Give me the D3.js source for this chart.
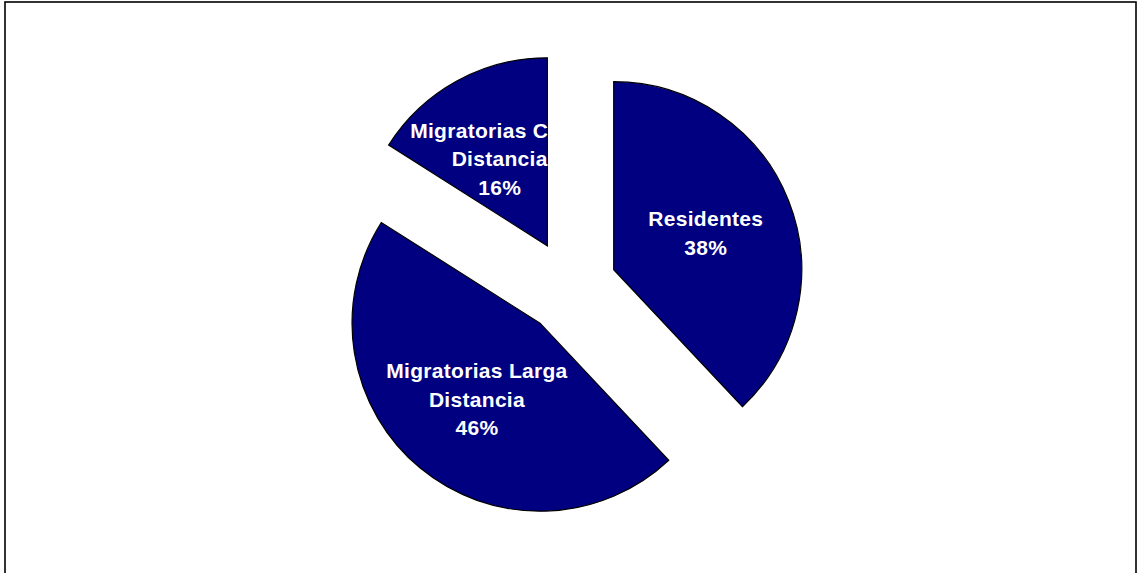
<!DOCTYPE html>
<html>
<head>
<meta charset="utf-8">
<script src="https://cdn.jsdelivr.net/npm/d3@7"></script>
<style>
  html, body { margin: 0; padding: 0; background: #fff; }
  svg { display: block; }
</style>
</head>
<body>
<svg id="chart" width="1138" height="573"></svg>
<script>
// Bird species by migratory behaviour
const categories = ["Residentes", "Migratorias Larga Distancia", "Migratorias Corta Distancia"];
const labelLines = [["Residentes"], ["Migratorias Larga", "Distancia"], ["Migratorias Corta", "Distancia"]];
const shares = [38, 46, 16];

const W = 1138, H = 573;
const cx = 570, cy = 287, radius = 188, explode = 47, labelDist = 99;

const svg = d3.select("#chart");

// Chart frame
svg.append("rect")
  .attr("x", 5).attr("y", 2)
  .attr("width", 1131).attr("height", 600)
  .attr("fill", "none")
  .attr("stroke", "#000")
  .attr("stroke-width", 1.6);

const data = categories.map((c, i) => ({ name: c, value: shares[i], lines: labelLines[i] }));

const pie = d3.pie().value(d => d.value).sort(null);
const arc = d3.arc().innerRadius(0).outerRadius(radius);
const arcs = pie(data);

const g = svg.append("g").attr("transform", `translate(${cx},${cy})`);

const slice = g.selectAll("g.slice")
  .data(arcs)
  .join("g")
  .attr("class", "slice")
  .attr("transform", d => {
    const a = (d.startAngle + d.endAngle) / 2;
    return `translate(${Math.sin(a) * explode},${-Math.cos(a) * explode})`;
  });

slice.append("path")
  .attr("d", arc)
  .attr("fill", "#000080")
  .attr("stroke", "#000")
  .attr("stroke-width", 1.2);

const lineH = 28.5;
slice.append("text")
  .attr("transform", d => {
    const a = (d.startAngle + d.endAngle) / 2;
    return `translate(${Math.sin(a) * labelDist},${-Math.cos(a) * labelDist})`;
  })
  .attr("text-anchor", "middle")
  .attr("fill", "#fff")
  .style("font-family", "'Liberation Sans', Arial, sans-serif")
  .style("font-weight", "bold")
  .style("font-size", "21px")
  .style("letter-spacing", "0.3px")
  .each(function(d) {
    const lines = d.data.lines.concat([d.data.value + "%"]);
    const n = lines.length;
    const t = d3.select(this);
    lines.forEach((ln, k) => {
      t.append("tspan")
        .attr("x", 0)
        .attr("y", (k - (n - 1) / 2) * lineH)
        .attr("dy", "0.35em")
        .text(ln);
    });
  });
</script>
</body>
</html>
